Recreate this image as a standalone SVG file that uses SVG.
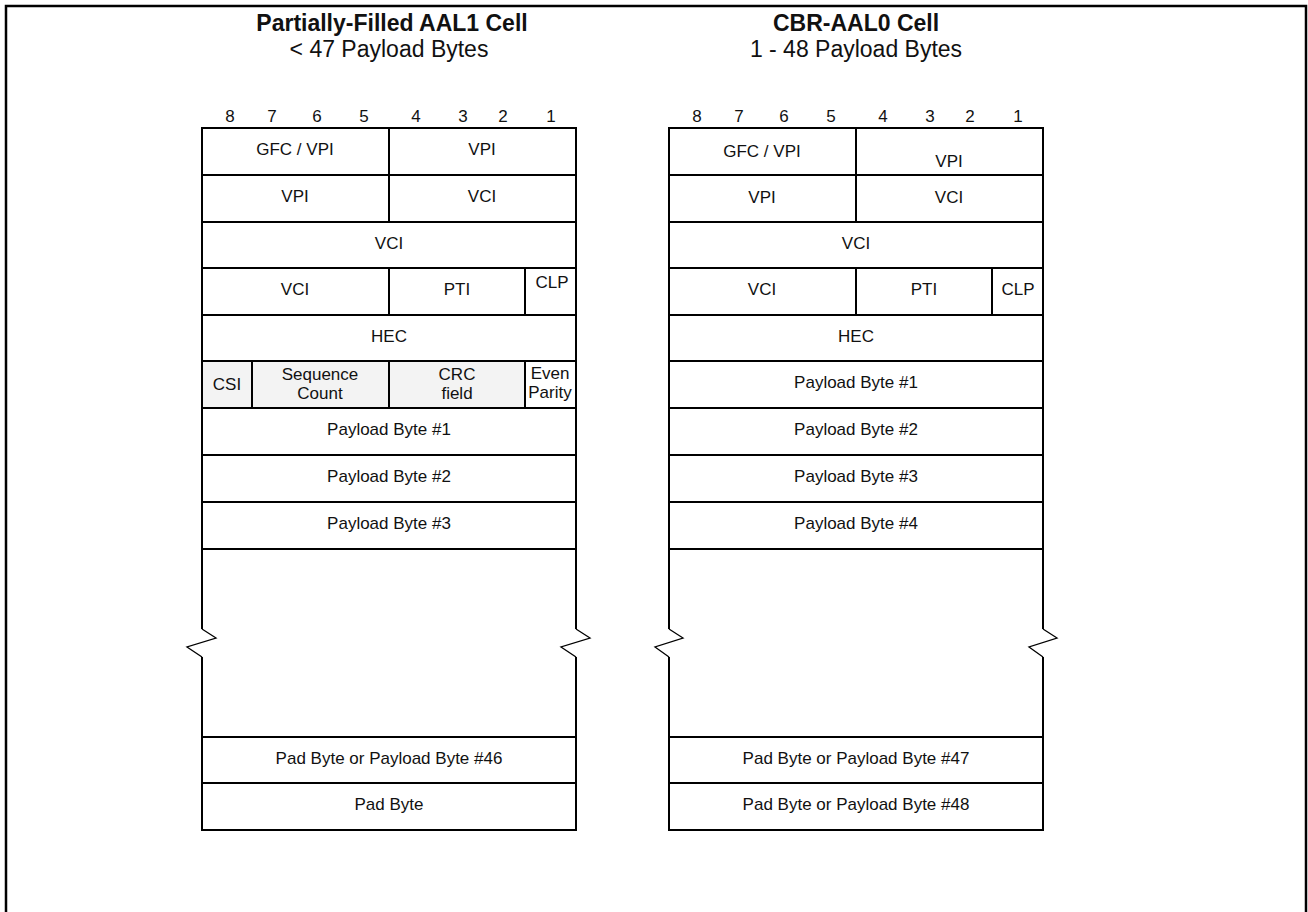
<svg xmlns="http://www.w3.org/2000/svg" width="1308" height="912" viewBox="0 0 1308 912">
<style>
  .frame{fill:none;stroke:#000;stroke-width:2.5}
  .f{fill:#fff;stroke:#000;stroke-width:2}
  .g{fill:#f3f3f3;stroke:#000;stroke-width:2}
  .edge{fill:none;stroke:#000;stroke-width:2}
  .zz{fill:none;stroke:#000;stroke-width:1.3}
  text{font-family:"Liberation Sans",Arial,Helvetica,sans-serif;fill:#111}
  .t{font-size:17px;text-anchor:middle}
  .h1{font-size:23px;font-weight:bold;text-anchor:middle}
  .h2{font-size:23px;text-anchor:middle}
</style>
<rect width="1308" height="912" fill="#fff"/>
<rect class="frame" x="6" y="6" width="1300" height="1000"/>

<!-- Left cell -->
<g id="left-title">
  <text class="h1" x="392" y="31">Partially-Filled AAL1 Cell</text>
  <text class="h2" x="389" y="57">&lt; 47 Payload Bytes</text>
</g>
<g id="left-bits">
  <text class="t" x="230" y="122">8</text>
  <text class="t" x="272" y="122">7</text>
  <text class="t" x="317" y="122">6</text>
  <text class="t" x="364" y="122">5</text>
  <text class="t" x="416" y="122">4</text>
  <text class="t" x="463" y="122">3</text>
  <text class="t" x="503" y="122">2</text>
  <text class="t" x="551" y="122">1</text>
</g>
<g id="l-gfc"><rect class="f" x="202" y="128" width="187" height="47"/><text class="t" x="295" y="155">GFC / VPI</text></g>
<g id="l-vpi1"><rect class="f" x="389" y="128" width="187" height="47"/><text class="t" x="482" y="155">VPI</text></g>
<g id="l-vpi2"><rect class="f" x="202" y="175" width="187" height="47"/><text class="t" x="295" y="202">VPI</text></g>
<g id="l-vci1"><rect class="f" x="389" y="175" width="187" height="47"/><text class="t" x="482" y="202">VCI</text></g>
<g id="l-vci2"><rect class="f" x="202" y="222" width="374" height="46"/><text class="t" x="389" y="249">VCI</text></g>
<g id="l-vci3"><rect class="f" x="202" y="268" width="187" height="47"/><text class="t" x="295" y="295">VCI</text></g>
<g id="l-pti"><rect class="f" x="389" y="268" width="136" height="47"/><text class="t" x="457" y="295">PTI</text></g>
<g id="l-clp"><rect class="f" x="525" y="268" width="51" height="47"/><text class="t" x="552" y="288">CLP</text></g>
<g id="l-hec"><rect class="f" x="202" y="315" width="374" height="46"/><text class="t" x="389" y="342">HEC</text></g>
<g id="l-csi"><rect class="g" x="202" y="361" width="50" height="47"/><text class="t" x="227" y="390">CSI</text></g>
<g id="l-seq"><rect class="g" x="252" y="361" width="137" height="47"/><text class="t" x="320" y="380">Sequence</text><text class="t" x="320" y="399">Count</text></g>
<g id="l-crc"><rect class="g" x="389" y="361" width="136" height="47"/><text class="t" x="457" y="380">CRC</text><text class="t" x="457" y="399">field</text></g>
<g id="l-par"><rect class="f" x="525" y="361" width="51" height="47"/><text class="t" x="550" y="379">Even</text><text class="t" x="550" y="398">Parity</text></g>
<g id="l-pb1"><rect class="f" x="202" y="408" width="374" height="47"/><text class="t" x="389" y="435">Payload Byte #1</text></g>
<g id="l-pb2"><rect class="f" x="202" y="455" width="374" height="47"/><text class="t" x="389" y="482">Payload Byte #2</text></g>
<g id="l-pb3"><rect class="f" x="202" y="502" width="374" height="47"/><text class="t" x="389" y="529">Payload Byte #3</text></g>
<g id="l-pb46"><rect class="f" x="202" y="737" width="374" height="46"/><text class="t" x="389" y="764">Pad Byte or Payload Byte #46</text></g>
<g id="l-pad"><rect class="f" x="202" y="783" width="374" height="47"/><text class="t" x="389" y="810">Pad Byte</text></g>

<!-- Right cell -->
<g id="right-title">
  <text class="h1" x="856" y="31">CBR-AAL0 Cell</text>
  <text class="h2" x="856" y="57">1 - 48 Payload Bytes</text>
</g>
<g id="right-bits">
  <text class="t" x="697" y="122">8</text>
  <text class="t" x="739" y="122">7</text>
  <text class="t" x="784" y="122">6</text>
  <text class="t" x="831" y="122">5</text>
  <text class="t" x="883" y="122">4</text>
  <text class="t" x="930" y="122">3</text>
  <text class="t" x="970" y="122">2</text>
  <text class="t" x="1018" y="122">1</text>
</g>
<g id="r-gfc"><rect class="f" x="669" y="128" width="187" height="47"/><text class="t" x="762" y="157">GFC / VPI</text></g>
<g id="r-vpi1"><rect class="f" x="856" y="128" width="187" height="47"/><text class="t" x="949" y="167">VPI</text></g>
<g id="r-vpi2"><rect class="f" x="669" y="175" width="187" height="47"/><text class="t" x="762" y="203">VPI</text></g>
<g id="r-vci1"><rect class="f" x="856" y="175" width="187" height="47"/><text class="t" x="949" y="203">VCI</text></g>
<g id="r-vci2"><rect class="f" x="669" y="222" width="374" height="46"/><text class="t" x="856" y="249">VCI</text></g>
<g id="r-vci3"><rect class="f" x="669" y="268" width="187" height="47"/><text class="t" x="762" y="295">VCI</text></g>
<g id="r-pti"><rect class="f" x="856" y="268" width="136" height="47"/><text class="t" x="924" y="295">PTI</text></g>
<g id="r-clp"><rect class="f" x="992" y="268" width="51" height="47"/><text class="t" x="1018" y="295">CLP</text></g>
<g id="r-hec"><rect class="f" x="669" y="315" width="374" height="46"/><text class="t" x="856" y="342">HEC</text></g>
<g id="r-pb1"><rect class="f" x="669" y="361" width="374" height="47"/><text class="t" x="856" y="388">Payload Byte #1</text></g>
<g id="r-pb2"><rect class="f" x="669" y="408" width="374" height="47"/><text class="t" x="856" y="435">Payload Byte #2</text></g>
<g id="r-pb3"><rect class="f" x="669" y="455" width="374" height="47"/><text class="t" x="856" y="482">Payload Byte #3</text></g>
<g id="r-pb4"><rect class="f" x="669" y="502" width="374" height="47"/><text class="t" x="856" y="529">Payload Byte #4</text></g>
<g id="r-pb47"><rect class="f" x="669" y="737" width="374" height="46"/><text class="t" x="856" y="764">Pad Byte or Payload Byte #47</text></g>
<g id="r-pb48"><rect class="f" x="669" y="783" width="374" height="47"/><text class="t" x="856" y="810">Pad Byte or Payload Byte #48</text></g>

<!-- Break sections (cell sides with break marks) -->
<g id="connectors">
  <path class="edge" d="M202 549 V629 M202 657 V737"/>
  <path class="edge" d="M576 549 V629 M576 657 V737"/>
  <path class="edge" d="M669 549 V629 M669 657 V737"/>
  <path class="edge" d="M1043 549 V629 M1043 657 V737"/>
  <path class="zz" d="M202 629 L216 638 L187 647 L202 657"/>
  <path class="zz" d="M576 629 L590 638 L561 647 L576 657"/>
  <path class="zz" d="M669 629 L683 638 L655 647 L669 657"/>
  <path class="zz" d="M1043 629 L1057 638 L1029 647 L1043 657"/>
</g>
</svg>
